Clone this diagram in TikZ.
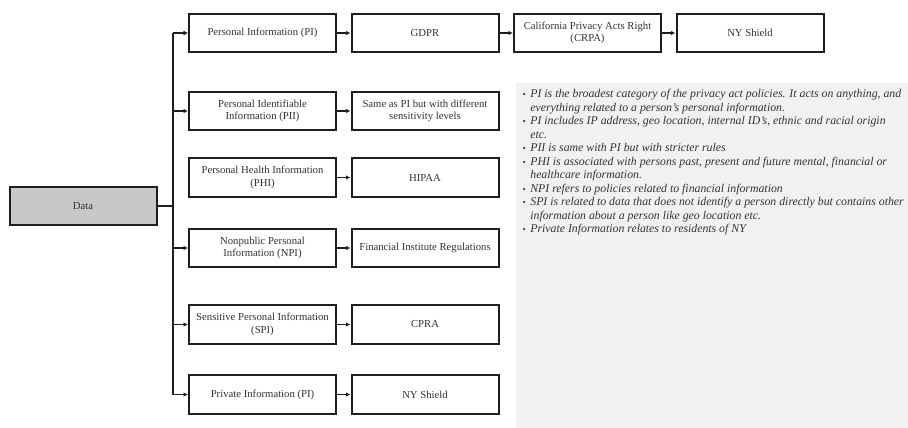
\documentclass[tikz,border=0pt]{standalone}
\usepackage{fontspec}
\setmainfont{Liberation Serif}
\usetikzlibrary{arrows.meta}
\definecolor{boxline}{HTML}{1E1E1E}
\definecolor{txt}{HTML}{333333}
\definecolor{datafill}{HTML}{C8C8C8}
\definecolor{notefill}{HTML}{F0F1F3}
\begin{document}
\begin{tikzpicture}[x=1pt,y=-1pt,
  box/.style={draw=boxline, line width=2pt, fill=white, minimum width=147pt,
    minimum height=38.5pt, inner sep=1pt, align=center, text=txt,
    font=\fontsize{10.7}{12.6}\selectfont},
  link/.style={draw=boxline, line width=1.4pt,
    -{Latex[length=4.5pt,width=4.5pt]}},
  trunk/.style={draw=boxline, line width=1.6pt}]
\useasboundingbox (0,0) rectangle (908,428);

% notes panel
\fill[notefill] (516,83) rectangle (908,428);

% root
\node[box, fill=datafill] (data) at (83,206) {Data};

% first column: categories
\node[box] (pi)  at (262.5,33)    {Personal Information (PI)};
\node[box] (pii) at (262.5,111)   {Personal Identifiable\\Information (PII)};
\node[box] (phi) at (262.5,177.5) {Personal Health Information\\(PHI)};
\node[box] (npi) at (262.5,248)   {Nonpublic Personal\\Information (NPI)};
\node[box] (spi) at (262.5,324.5) {Sensitive Personal Information\\(SPI)};
\node[box] (pri) at (262.5,394.5) {Private Information (PI)};

% second column: regulations
\node[box] (gdpr) at (425,33)    {GDPR};
\node[box] (same) at (425,111)   {Same as PI but with different\\sensitivity levels};
\node[box] (hipaa) at (425,177.5) {HIPAA};
\node[box] (fin)  at (425,248)   {Financial Institute Regulations};
\node[box] (cpra) at (425,324.5) {CPRA};
\node[box] (nys2) at (425,394.5) {NY Shield};

% top row continues
\node[box] (crpa) at (587.5,33) {California Privacy Acts Right\\(CRPA)};
\node[box] (nys1) at (750,33)   {NY Shield};

% trunk and branches
\coordinate (jt) at (173,33);
\coordinate (jb) at (173,394.5);
\draw[trunk] (jt) -- (jb);
\draw[trunk] (data.east) -- (173,206);
\foreach \n in {pi,pii,npi,spi,pri}
  \draw[link] (173,0 |- \n.west) -- (\n.west);
\draw[link] (jt) -- (pi.west);

% row arrows
\draw[link] (pi) -- (gdpr);
\draw[link] (gdpr) -- (crpa);
\draw[link] (crpa) -- (nys1);
\draw[link] (pii) -- (same);
\draw[link] (phi) -- (hipaa);
\draw[link] (npi) -- (fin);
\draw[link] (spi) -- (cpra);
\draw[link] (pri) -- (nys2);

% notes
\node[anchor=north west, inner sep=0pt, text=txt, align=left,
  font=\fontsize{11.8}{13.5}\selectfont\itshape] (notes) at (522.5,88) {%
  \begin{tabular}{@{}l@{\hspace{4.5pt}}l@{}}
  {\small\textbullet} & PI is the broadest category of the privacy act policies. It acts on anything, and\\
   & everything related to a person’s personal information.\\
  {\small\textbullet} & PI includes IP address, geo location, internal ID’s, ethnic and racial origin\\
   & etc.\\
  {\small\textbullet} & PII is same with PI but with stricter rules\\
  {\small\textbullet} & PHI is associated with persons past, present and future mental, financial or\\
   & healthcare information.\\
  {\small\textbullet} & NPI refers to policies related to financial information\\
  {\small\textbullet} & SPI is related to data that does not identify a person directly but contains other\\
   & information about a person like geo location etc.\\
  {\small\textbullet} & Private Information relates to residents of NY
  \end{tabular}};
\end{tikzpicture}
\end{document}
